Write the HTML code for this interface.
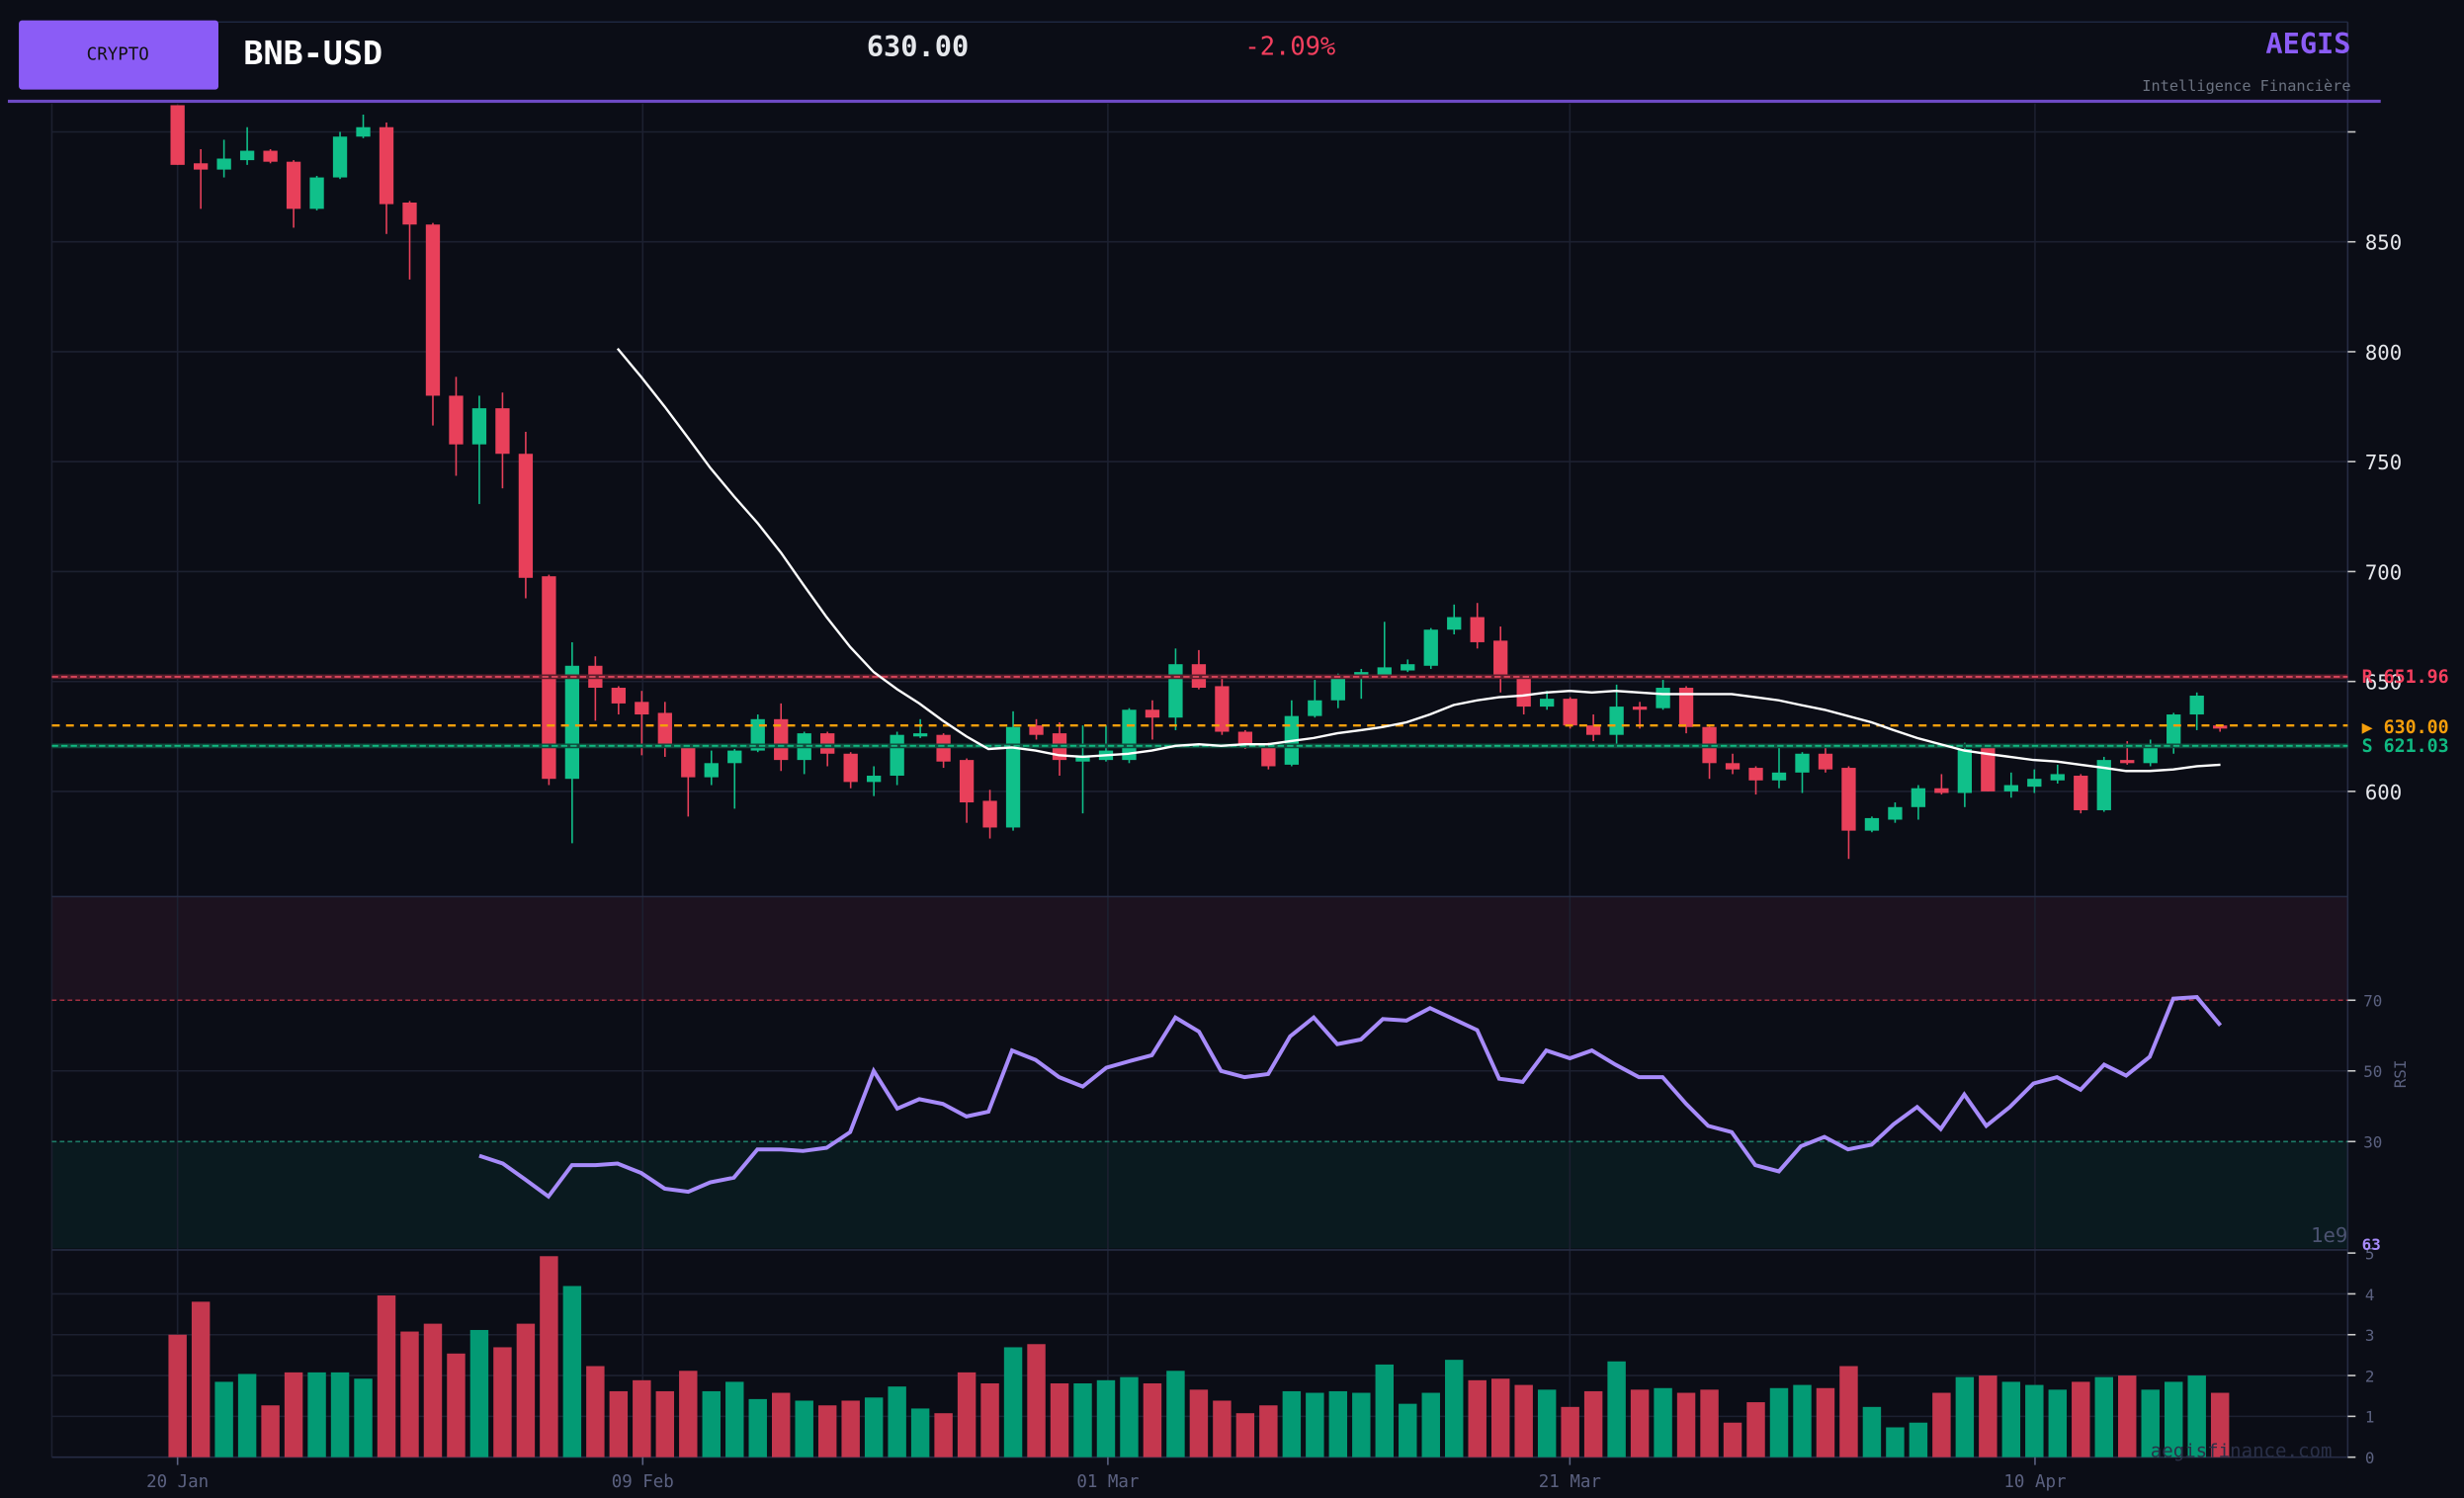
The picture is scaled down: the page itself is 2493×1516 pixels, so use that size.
<!DOCTYPE html>
<html><head><meta charset="utf-8"><style>
html,body{margin:0;padding:0;background:#0b0d16;}
svg{display:block}
text{font-family:"DejaVu Sans Mono","Liberation Mono",monospace;}
</style></head><body>
<svg id="s" width="2493" height="1516" viewBox="0 0 1568 954" preserveAspectRatio="none" xmlns="http://www.w3.org/2000/svg">
<rect width="1568" height="954" fill="#0b0d16"/>
<rect x="33" y="571" width="1461" height="66" fill="#1c121f"/>
<rect x="33" y="727" width="1461" height="68" fill="#0a1a1f"/>
<g id="grid" stroke="#1c2030" stroke-width="1"></g>
<line x1="33" y1="14" x2="1494" y2="14" stroke="#1e2740" stroke-width="1"/>
<line x1="1494" y1="14" x2="1494" y2="928" stroke="#262c44" stroke-width="1"/>
<line x1="33" y1="928" x2="1494" y2="928" stroke="#262c44" stroke-width="1"/>
<line x1="33" y1="571" x2="1494" y2="571" stroke="#262c44"/>
<line x1="33" y1="796" x2="1494" y2="796" stroke="#262c44"/>
<line x1="33" y1="637" x2="1494" y2="637" stroke="#a03040" stroke-dasharray="3,2"/>
<line x1="33" y1="727" x2="1494" y2="727" stroke="#1d7a66" stroke-dasharray="3,2"/>
<g id="vol"></g>
<g id="cdl"></g>
<line x1="33" y1="431" x2="1494" y2="431" stroke="#5a1e2c" stroke-width="3"/>
<line x1="33" y1="431" x2="1494" y2="431" stroke="#d8445a" stroke-width="1.2" stroke-dasharray="4,2"/>
<line x1="33" y1="462" x2="1494" y2="462" stroke="#f59e0b" stroke-width="1.5" stroke-dasharray="5,4"/>
<line x1="33" y1="475" x2="1494" y2="475" stroke="#0f4a3c" stroke-width="3"/>
<line x1="33" y1="475" x2="1494" y2="475" stroke="#10b981" stroke-width="1.2" stroke-dasharray="4,2"/>
<polyline id="sma" fill="none" stroke="#ffffff" stroke-width="1.5"/>
<polyline id="rsi" fill="none" stroke="#a78bfa" stroke-width="2.5"/>
<rect x="12" y="13" width="127" height="44" rx="2" fill="#8b5cf6"/>
<text x="75" y="38" font-size="11" fill="#111" text-anchor="middle">CRYPTO</text>
<text x="155" y="41" font-size="21" font-weight="bold" fill="#ffffff">BNB-USD</text>
<text x="584" y="36" font-size="18" font-weight="bold" fill="#e5e7eb" text-anchor="middle">630.00</text>
<text x="821" y="35" font-size="16" fill="#f43f5e" text-anchor="middle">-2.09%</text>
<text x="1496" y="34" font-size="18" font-weight="bold" fill="#8b5cf6" text-anchor="end">AEGIS</text>
<text x="1496" y="58" font-size="9.6" fill="#6b7280" text-anchor="end">Intelligence Financière</text>
<rect x="5" y="63.5" width="1510" height="2" fill="#6d4ac4"/>
<g font-size="13" fill="#e5e7eb">
<text x="1505" y="159">850</text><text x="1505" y="229">800</text><text x="1505" y="299">750</text>
<text x="1505" y="369">700</text><text x="1505" y="439">650</text><text x="1505" y="509">600</text>
</g>
<g stroke="#ccc" stroke-width="1">
<line x1="1494" y1="84" x2="1499" y2="84"/><line x1="1494" y1="154" x2="1499" y2="154"/><line x1="1494" y1="224" x2="1499" y2="224"/><line x1="1494" y1="294" x2="1499" y2="294"/><line x1="1494" y1="364" x2="1499" y2="364"/><line x1="1494" y1="434" x2="1499" y2="434"/><line x1="1494" y1="504" x2="1499" y2="504"/>
<line x1="1494" y1="637" x2="1499" y2="637"/><line x1="1494" y1="682" x2="1499" y2="682"/><line x1="1494" y1="727" x2="1499" y2="727"/>
<line x1="1494" y1="798" x2="1499" y2="798"/><line x1="1494" y1="824" x2="1499" y2="824"/><line x1="1494" y1="850" x2="1499" y2="850"/><line x1="1494" y1="876" x2="1499" y2="876"/><line x1="1494" y1="902" x2="1499" y2="902"/><line x1="1494" y1="928" x2="1499" y2="928"/>
</g>
<g font-size="10" fill="#5b6180">
<text x="1504" y="641">70</text><text x="1504" y="686">50</text><text x="1504" y="731">30</text>
<text x="1505" y="802">5</text><text x="1505" y="828">4</text><text x="1505" y="854">3</text><text x="1505" y="880">2</text><text x="1505" y="906">1</text><text x="1505" y="932">0</text>
</g>
<text x="1531" y="684" font-size="10" fill="#5b6180" text-anchor="middle" transform="rotate(-90 1531 684)">RSI</text>
<text x="1494" y="791" font-size="13" fill="#4b5270" text-anchor="end">1e9</text>
<text x="1503" y="796" font-size="10" font-weight="bold" fill="#a78bfa">63</text>
<g font-size="11.5" font-weight="bold" xml:space="preserve">
<text x="1503" y="435" fill="#f43f5e">R  651.96</text>
<text x="1503" y="467" fill="#f59e0b">▶ 630.00</text>
<text x="1503" y="479" fill="#10b981">S  621.03</text>
</g>
<text x="1484" y="928" font-size="12" fill="#2a3048" text-anchor="end">aegisfinance.com</text>
<g font-size="11" fill="#5b6180" text-anchor="middle">
<text x="113" y="947">20 Jan</text><text x="409" y="947">09 Feb</text><text x="705" y="947">01 Mar</text><text x="999" y="947">21 Mar</text><text x="1295" y="947">10 Apr</text>
</g>
<g stroke="#5b6180"><line x1="113" y1="928" x2="113" y2="933"/><line x1="409" y1="928" x2="409" y2="933"/><line x1="705" y1="928" x2="705" y2="933"/><line x1="999" y1="928" x2="999" y2="933"/><line x1="1295" y1="928" x2="1295" y2="933"/></g>
</svg>
<script>
var NS="http://www.w3.org/2000/svg";
function el(p,t,a){var e=document.createElementNS(NS,t);for(var k in a)e.setAttribute(k,a[k]);p.appendChild(e);return e;}
var g=document.getElementById('grid');
[113,409,705,999,1295].forEach(function(x){el(g,'line',{x1:x,y1:66,x2:x,y2:928});});
[84,154,224,294,364,434,504,682,824,850,876,902].forEach(function(y){el(g,'line',{x1:33,y1:y,x2:1494,y2:y});});
el(g,'line',{x1:33,y1:66,x2:33,y2:928});
var C=[
['r',67,105,67,105],['r',104,108,95,133],['g',101,108,89,113],['g',96,102,81,105],['r',96,103,95,104],['r',103,133,102,145],['g',113,133,112,134],['g',87,113,84,114],['g',81,87,73,88],['r',81,130,78,149],
['r',129,143,128,178],['r',143,252,142,271],['r',252,283,240,303],['g',260,283,252,321],['r',260,289,250,311],['r',289,368,275,381],['r',367,496,366,500],['g',424,496,409,537],['r',424,438,418,459],['r',438,448,437,455],
['r',447,455,440,481],['r',454,476,447,482],['r',476,495,475,520],['g',486,495,478,500],['g',478,486,477,515],['g',458,478,455,479],['r',458,484,448,491],['g',467,484,466,493],['r',467,480,466,488],['r',480,498,479,502],
['g',494,498,488,507],['g',468,494,466,500],['g',467,469,458,470],['r',468,485,467,489],['r',484,511,483,524],['r',510,527,503,534],['g',463,527,453,529],['r',462,468,458,471],['r',467,484,460,494],['g',481,485,462,518],
['g',478,484,462,485],['g',452,484,451,486],['r',452,457,446,471],['g',423,457,413,465],['r',423,438,414,439],['r',437,466,430,468],['r',466,474,465,477],['r',474,488,473,490],['g',456,487,446,488],['g',446,456,433,457],
['g',432,446,429,451],['g',428,432,426,445],['g',425,431,396,432],['g',423,427,420,428],['g',401,424,400,426],['g',393,401,385,404],['r',393,409,384,413],['r',408,432,399,441],['r',432,450,431,455],['g',445,450,440,452],
['r',445,462,444,464],['r',462,468,455,472],['g',450,468,436,475],['r',450,452,447,464],['g',438,451,433,452],['r',438,463,437,467],['r',463,486,462,496],['r',486,490,480,493],['r',489,497,488,506],['g',492,497,476,502],
['g',480,492,479,505],['r',480,490,476,492],['r',489,529,488,547],['g',521,529,520,530],['g',514,522,511,524],['g',502,514,500,522],['r',502,505,493,506],['g',477,505,473,514],['r',476,504,476,504],['g',500,504,492,508],
['g',496,501,490,505],['g',493,497,487,499],['r',494,516,493,518],['g',484,516,482,517],['r',484,486,472,487],['g',474,486,471,488],['g',455,474,454,480],['g',443,455,441,465],['r',462,464,462,466]];
var V=[850,829,880,875,895,874,874,874,878,825,848,843,862,847,858,843,800,819,870,886,879,886,873,886,880,891,887,892,895,892,890,883,897,900,874,881,858,856,881,881,879,877,881,873,885,892,900,895,886,887,886,887,869,894,887,866,879,878,882,885,896,886,867,885,884,887,885,906,893,884,882,884,870,896,909,906,887,877,876,880,882,885,880,877,876,885,880,876,887];
var cg=document.getElementById('cdl'),vg=document.getElementById('vol');
C.forEach(function(c,i){var x=113+14.77*i;var col=c[0]=='r'?'#e8405a':'#10c08a';
 el(cg,'line',{x1:x,y1:c[3],x2:x,y2:c[4],stroke:col,'stroke-width':1});
 el(cg,'rect',{x:x-4.5,y:c[1],width:9,height:Math.max(1.5,c[2]-c[1]),fill:col});
 var vc=c[0]=='r'?'#c4374e':'#039a74';
 el(vg,'rect',{x:x-5.8,y:V[i],width:11.6,height:928-V[i],fill:vc});
});
var S=[[393,222],[408,240],[423,259],[438,279],[452,298],[467,316],[482,333],[497,352],[511,372],[526,393],[541,412],[556,428],[571,439],[585,448],[600,459],[615,469],[629,477],[644,476],[659,478],[674,481],[689,482],[704,481],[718,480],[733,478],[748,475],[763,474],[777,475],[792,474],[807,474],[821,472],[836,470],[851,467],[866,465],[880,463],[895,460],[910,455],[925,449],[940,446],[954,444],[969,443],[984,441],[999,440],[1013,441],[1028,440],[1043,441],[1058,442],[1073,442],[1087,442],[1102,442],[1117,444],[1132,446],[1146,449],[1161,452],[1176,456],[1191,460],[1205,465],[1220,470],[1235,474],[1250,478],[1264,480],[1279,482],[1294,484],[1309,485],[1324,487],[1339,489],[1353,491],[1368,491],[1383,490],[1398,488],[1413,487]];
document.getElementById('sma').setAttribute('points',S.map(function(p){return p.join(',')}).join(' '));
var R=[[305,736],[320,741],[334,751],[349,762],[364,742],[379,742],[393,741],[408,747],[423,757],[438,759],[452,753],[467,750],[482,732],[497,732],[511,733],[526,731],[541,721],[556,682],[571,706],[585,700],[600,703],[615,711],[629,708],[644,669],[659,675],[674,686],[689,692],[704,680],[718,676],[733,672],[748,648],[763,657],[777,682],[792,686],[807,684],[821,660],[836,648],[851,665],[866,662],[880,649],[895,650],[910,642],[925,649],[940,656],[954,687],[969,689],[984,669],[999,674],[1013,669],[1028,678],[1043,686],[1058,686],[1073,703],[1087,717],[1102,721],[1117,742],[1132,746],[1146,730],[1161,724],[1176,732],[1191,729],[1205,716],[1220,705],[1235,719],[1250,697],[1264,717],[1279,705],[1294,690],[1309,686],[1324,694],[1339,678],[1353,685],[1368,673],[1383,636],[1398,635],[1413,653]];
document.getElementById('rsi').setAttribute('points',R.map(function(p){return p.join(',')}).join(' '));
</script>
</body></html>
